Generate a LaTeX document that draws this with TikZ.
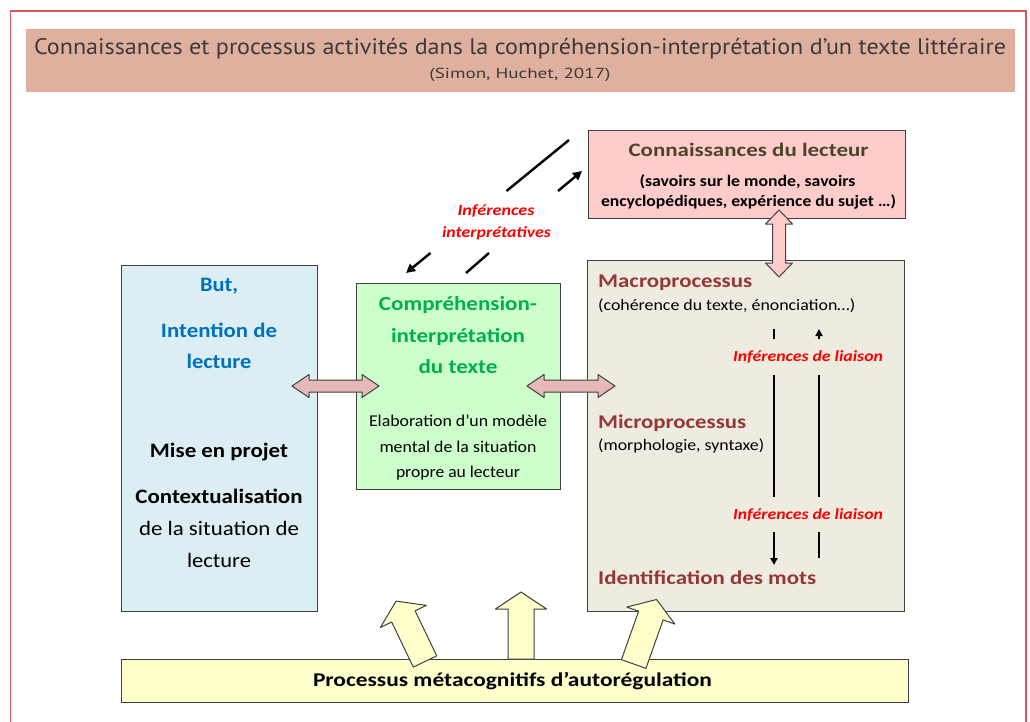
\documentclass[tikz,border=0pt]{standalone}
\usepackage{fontspec}
\setmainfont{Carlito}
\newfontfamily\titlefont{PT Sans}
\usetikzlibrary{calc,arrows.meta}
\definecolor{framered}{HTML}{D8585A}
\definecolor{titleband}{HTML}{E0B09E}
\definecolor{titletext}{HTML}{3A3A3A}
\definecolor{boxline}{HTML}{404040}
\definecolor{connfill}{HTML}{FFCCCC}
\definecolor{connhead}{HTML}{4A452A}
\definecolor{bluefill}{HTML}{DAEEF3}
\definecolor{bluetext}{HTML}{0070C0}
\definecolor{greenfill}{HTML}{CCFFCC}
\definecolor{greentext}{HTML}{00B050}
\definecolor{procfill}{HTML}{EEECE1}
\definecolor{proctext}{HTML}{953735}
\definecolor{yellowfill}{HTML}{FFFFCC}
\definecolor{pinkarrow}{HTML}{E6B9B8}
\definecolor{inftext}{HTML}{FF0000}
\newcommand\fsz[1]{\fontsize{#1}{#1}\selectfont}
\newcommand\rw[2]{\resizebox{#1pt}{\height}{#2}}
\newcommand\hdbl[3]{\draw[#1] (#2) -- ($(#2)+(17,-11.5)$) -- ($(#2)+(17,-6)$) -- ($(#3)+(-17,-6)$) -- ($(#3)+(-17,-11.5)$) -- (#3) -- ($(#3)+(-17,11.5)$) -- ($(#3)+(-17,6)$) -- ($(#2)+(17,6)$) -- ($(#2)+(17,11.5)$) -- cycle;}
\newcommand\vdbl[3]{\draw[#1] (#2) -- ($(#2)+(13.5,14)$) -- ($(#2)+(6.5,14)$) -- ($(#3)+(6.5,-14)$) -- ($(#3)+(13.5,-14)$) -- (#3) -- ($(#3)+(-13.5,-14)$) -- ($(#3)+(-6.5,-14)$) -- ($(#2)+(-6.5,14)$) -- ($(#2)+(-13.5,14)$) -- cycle;}
\newcommand\ysingle[3]{\draw[yarrow, shift={(#1)}, rotate=#2] (0,-13) -- ({#3-17},-13) -- ({#3-17},-25.5) -- (#3,0) -- ({#3-17},25.5) -- ({#3-17},13) -- (0,13) -- cycle;}
\begin{document}
\begin{tikzpicture}[x=1pt,y=-1pt,
  box/.style={draw=boxline, line width=1.3pt, anchor=north west, inner sep=0pt},
  txt/.style={inner sep=0pt, anchor=base},
  ltxt/.style={inner sep=0pt, anchor=base west},
  pinkdbl/.style={draw=boxline, line width=1pt, fill=pinkarrow, line join=round},
  conndbl/.style={draw=boxline, line width=1pt, fill=connfill, line join=round},
  yarrow/.style={draw=boxline, line width=1pt, fill=yellowfill, line join=round},
  infarrow/.style={line width=2.4pt, -{Triangle[length=9pt,width=9pt]}},
  infline/.style={line width=2.4pt},
  liaison/.style={line width=1.8pt, -{Triangle[length=7pt,width=7pt]}},
  liaisonlbl/.style={inner sep=0pt, fill=procfill, minimum width=156pt, font=\fsz{15.5}\bfseries\itshape, text=inftext}]
\useasboundingbox (0,0) rectangle (1030,722);
% outer frame
\draw[framered, line width=1.3pt] (10.5,722) -- (10.5,11) -- (1026,11) -- (1026,722);
% title band
\fill[titleband] (26,29) rectangle (1015,92);
\node[txt, text=titletext] (title) at (520,55) {\resizebox{972pt}{\height}{\titlefont\fsz{22.5}Connaissances et processus activités dans la compréhension-interprétation d’un texte littéraire}};
\node[txt, text=titletext] (subtitle) at (520,79) {\resizebox{181pt}{\height}{\titlefont\fsz{14.5}(Simon, Huchet, 2017)}};
% boxes
\node[box, fill=connfill, minimum width=317pt, minimum height=88pt] (conn) at (588,130) {};
\node[box, fill=bluefill, minimum width=196pt, minimum height=346pt] (but) at (121,265) {};
\node[box, fill=greenfill, minimum width=204pt, minimum height=206pt] (comp) at (356,283) {};
\node[box, fill=procfill, minimum width=317pt, minimum height=351pt] (proc) at (587,260) {};
\node[box, fill=yellowfill, minimum width=787pt, minimum height=43pt] (meta) at (121,659) {};
% connaissances texts
\node[txt, text=connhead, font=\fsz{19}\bfseries] (conn1) at (748.5,157) {\rw{240}{Connaissances du lecteur}};
\node[txt, font=\fsz{16}\bfseries] (conn2) at (747.5,186) {\rw{216}{(savoirs sur le monde, savoirs}};
\node[txt, font=\fsz{16}\bfseries] (conn3) at (748.5,206) {\rw{295}{encyclopédiques, expérience du sujet …)}};
% but texts
\node[txt, text=bluetext, font=\fsz{20.5}\bfseries] (but1) at (219,291) {\rw{38}{But,}};
\node[txt, text=bluetext, font=\fsz{20.5}\bfseries] (but2) at (219,337) {\rw{116}{Intention de}};
\node[txt, text=bluetext, font=\fsz{20.5}\bfseries] (but3) at (219,368) {\rw{65}{lecture}};
\node[txt, font=\fsz{20.5}\bfseries] (but4) at (219,457) {\rw{138}{Mise en projet}};
\node[txt, font=\fsz{20.5}\bfseries] (but5) at (219,503) {\rw{167}{Contextualisation}};
\node[txt, font=\fsz{20.5}] (but6) at (219,535) {\rw{160}{de la situation de}};
\node[txt, font=\fsz{20.5}] (but7) at (219,567) {\rw{64}{lecture}};
% comprehension texts
\node[txt, text=greentext, font=\fsz{20}\bfseries] (comp1) at (458,310) {\rw{158}{Compréhension-}};
\node[txt, text=greentext, font=\fsz{20}\bfseries] (comp2) at (458,342) {\rw{134}{interprétation}};
\node[txt, text=greentext, font=\fsz{20}\bfseries] (comp3) at (458,373) {\rw{79}{du texte}};
\node[txt, font=\fsz{16.5}] (comp4) at (458,426) {\rw{178}{Elaboration d’un modèle}};
\node[txt, font=\fsz{16.5}] (comp5) at (458,452) {\rw{157}{mental de la situation}};
\node[txt, font=\fsz{16.5}] (comp6) at (458,477) {\rw{124}{propre au lecteur}};
% processes texts
\node[ltxt, text=proctext, font=\fsz{19.5}\bfseries] (macro) at (598,287) {\rw{154}{Macroprocessus}};
\node[ltxt, font=\fsz{16}] (macro2) at (598,310) {\rw{257}{(cohérence du texte, énonciation…)}};
\node[ltxt, text=proctext, font=\fsz{19.5}\bfseries] (micro) at (598,428) {\rw{148}{Microprocessus}};
\node[ltxt, font=\fsz{16}] (micro2) at (598,450) {\rw{166}{(morphologie, syntaxe)}};
\node[ltxt, text=proctext, font=\fsz{19.5}\bfseries] (ident) at (598,584) {\rw{218}{Identification des mots}};
% liaison arrows
\coordinate (ld1) at (774,329);
\coordinate (ld2) at (774,565);
\coordinate (lu1) at (819,558);
\coordinate (lu2) at (819,329);
\draw[liaison] (ld1) -- (ld2);
\draw[liaison] (lu1) -- (lu2);
\node[liaisonlbl, minimum height=36pt] (lia1) at (808,357) {\rw{150}{Inférences de liaison}};
\node[liaisonlbl, minimum height=35pt] (lia2) at (808,514.5) {\rw{150}{Inférences de liaison}};
% meta text
\node[txt, font=\fsz{19.5}\bfseries] (meta1) at (512.5,686) {\rw{399}{Processus métacognitifs d’autorégulation}};
% interpretative inferences
\coordinate (a1s) at (569,140);
\coordinate (a1m) at (506.5,191);
\coordinate (a1n) at (430.5,253);
\coordinate (a1e) at (406,273);
\coordinate (a2s) at (466,273);
\coordinate (a2m) at (489,253);
\coordinate (a2n) at (558,191);
\coordinate (a2e) at (582,171);
\draw[infline] (a1s) -- (a1m);
\draw[infarrow] (a1n) -- (a1e);
\draw[infline] (a2s) -- (a2m);
\draw[infarrow] (a2n) -- (a2e);
\node[txt, text=inftext, font=\fsz{15.5}\bfseries\itshape] (inf1) at (496,215) {\rw{77}{Inférences}};
\node[txt, text=inftext, font=\fsz{15.5}\bfseries\itshape] (inf2) at (496.5,237) {\rw{109}{interprétatives}};
% pink double arrows
\coordinate (h1l) at (292,386);
\coordinate (h1r) at (379,386);
\coordinate (h2l) at (527,386);
\coordinate (h2r) at (615,386);
\coordinate (v1t) at (779,210);
\coordinate (v1b) at (779,277);
\hdbl{pinkdbl}{h1l}{h1r}
\hdbl{pinkdbl}{h2l}{h2r}
\vdbl{conndbl}{v1t}{v1b}
% yellow arrows
\coordinate (y1) at (425,661.5);
\coordinate (y2) at (521,659);
\coordinate (y3) at (633.7,664);
\ysingle{y1}{115.6}{67}
\ysingle{y2}{90}{67}
\ysingle{y3}{70.5}{68.4}
\end{tikzpicture}
\end{document}
